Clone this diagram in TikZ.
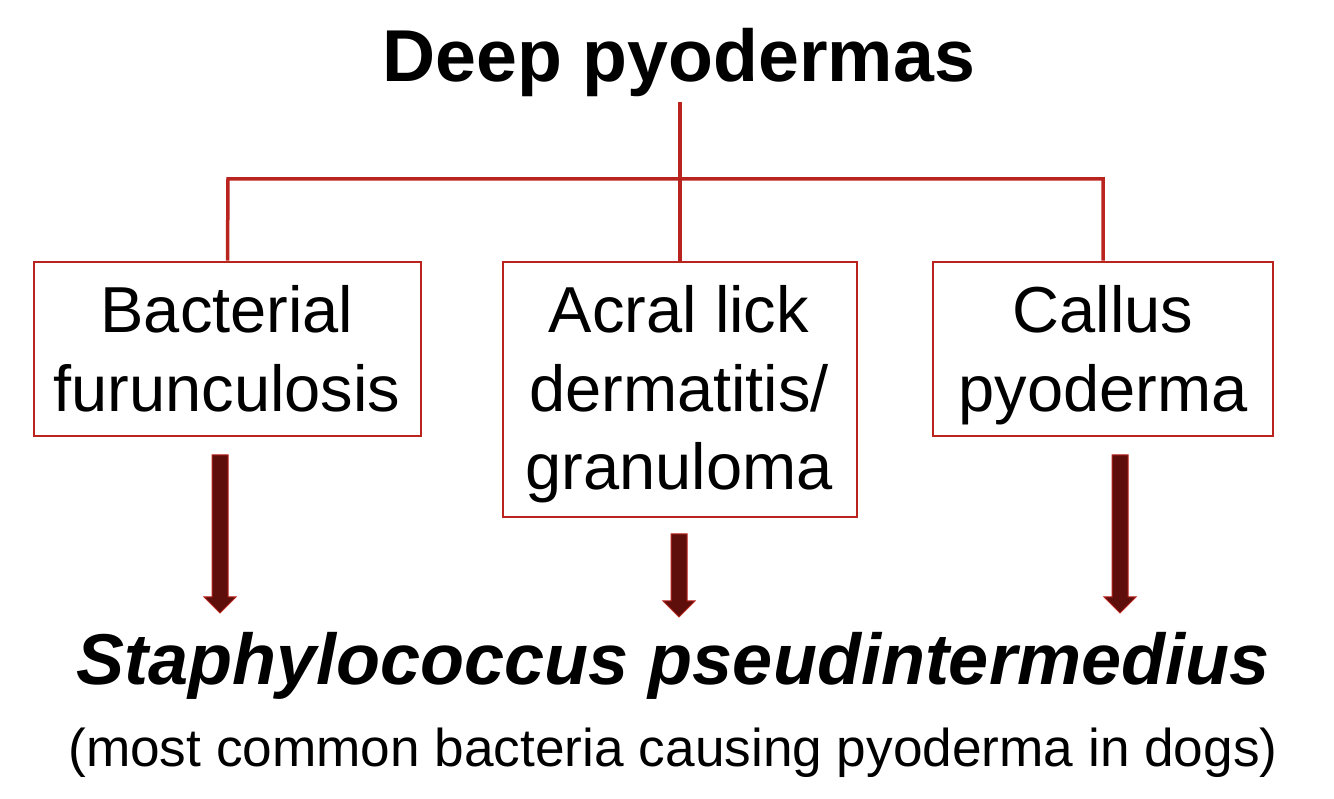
\documentclass[tikz,border=0pt]{standalone}
\usepackage{fontspec}
\setmainfont{Liberation Sans}
\usetikzlibrary{calc}
\definecolor{linered}{RGB}{185,36,30}
\definecolor{arrowfill}{RGB}{94,14,11}
\begin{document}
\begin{tikzpicture}[x=1pt,y=1pt,
  box/.style={draw=linered,line width=2.8pt,fill=white,inner sep=0pt},
  conn/.style={draw=linered,line width=3.5pt},
  lbl/.style={anchor=base,inner sep=0pt,font=\fontsize{65}{78}\selectfont},
  fatarr/.style={fill=arrowfill,draw=linered,line width=1pt,line join=miter}]
\useasboundingbox (0,0) rectangle (1334,799);
\fill[white] (0,0) rectangle (1334,799);
% title
\node[anchor=base,inner sep=0pt,font=\fontsize{73.5}{88}\selectfont\bfseries] (title) at (679,717) {Deep pyodermas};
% boxes
\node[box,minimum width=387pt,minimum height=174pt] (b1) at (227.5,450) {};
\node[box,minimum width=354pt,minimum height=255pt] (b2) at (680,409.5) {};
\node[box,minimum width=340pt,minimum height=174pt] (b3) at (1103,450) {};
% connectors
\coordinate (t) at (680,697);
\coordinate (hl) at (228,620);
\coordinate (hr) at (1103,620);
\draw[conn] (t) -- (b2.north);
\draw[conn] (b1.north) -- (hl) -- (hr) -- (b3.north);
% box labels
\node[lbl] (b1a) at (227,466) {Bacterial};
\node[lbl] (b1b) at (227,387) {furunculosis};
\node[lbl] (b2a) at (679,466) {Acral lick};
\node[lbl] (b2b) at (679,387) {dermatitis/};
\node[lbl] (b2c) at (679,309) {granuloma};
\node[lbl] (b3a) at (1103,466) {Callus};
\node[lbl] (b3b) at (1103,387) {pyoderma};
% bottom texts
\node[anchor=base,inner sep=0pt,font=\fontsize{72}{86}\selectfont\bfseries\itshape] (staph) at (673,114) {Staphylococcus pseudintermedius};
\node[anchor=base,inner sep=0pt,font=\fontsize{53.2}{64}\selectfont] (note) at (673,32) {(most common bacteria causing pyoderma in dogs)};
% fat arrows
\coordinate (a1s) at (220,344); \coordinate (a1e) at (220,186);
\coordinate (a2s) at (679,265); \coordinate (a2e) at (679,182);
\coordinate (a3s) at (1120,344); \coordinate (a3e) at (1120,186);
\foreach \s/\e in {a1s/a1e,a2s/a2e,a3s/a3e}{
  \draw[fatarr] ($(\s)+(-8,0)$) -- ($(\s)+(8,0)$) -- ($(\e)+(8,16)$) -- ($(\e)+(16,16)$)
    -- (\e) -- ($(\e)+(-16,16)$) -- ($(\e)+(-8,16)$) -- cycle;
}
\end{tikzpicture}
\end{document}
